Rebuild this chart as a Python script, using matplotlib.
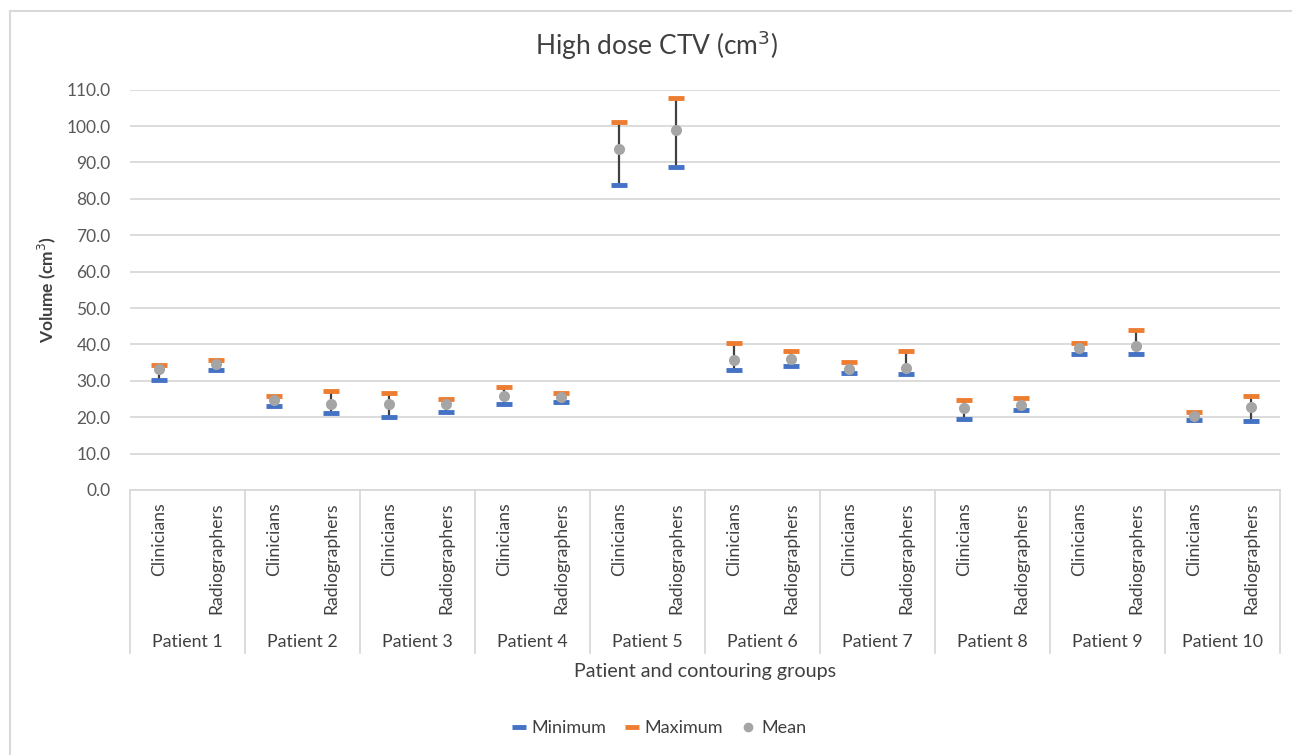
import matplotlib
matplotlib.use("Agg")
import matplotlib.pyplot as plt
import matplotlib.transforms as mtransforms
from matplotlib.lines import Line2D
import numpy as np

plt.rcParams['font.family'] = ['Lato', 'DejaVu Sans']

patients = ["Patient 1", "Patient 2", "Patient 3", "Patient 4", "Patient 5",
            "Patient 6", "Patient 7", "Patient 8", "Patient 9", "Patient 10"]
groups = ["Clinicians", "Radiographers"]

minimum = [30.3, 33.1, 23.0, 21.2, 20.0, 21.5, 23.6, 24.2, 83.9, 88.8,
           32.9, 34.2, 32.1, 31.8, 19.4, 22.0, 37.4, 37.4, 19.1, 18.9]
maximum = [34.4, 35.6, 25.9, 27.3, 26.7, 25.1, 28.4, 26.7, 101.0, 107.6,
           40.5, 38.3, 35.2, 38.3, 24.7, 25.3, 40.3, 44.1, 21.5, 25.7]
mean = [33.2, 34.6, 24.6, 23.6, 23.6, 23.5, 25.8, 25.5, 93.7, 98.8,
        35.7, 36.0, 33.2, 33.5, 22.5, 23.4, 38.9, 39.6, 20.2, 22.8]
yticks = [0, 10, 20, 30, 40, 50, 60, 70, 80, 90, 100, 110]

W, H = 1292, 755
fig = plt.figure(figsize=(W / 100, H / 100), dpi=100)
ax = fig.add_axes([130 / W, 1 - 490 / H, 1150 / W, (490 - 89.7) / H])

n = len(minimum)
x = np.arange(n)
text_c = '#404040'
grid_c = '#D9D9D9'

ax.vlines(x, minimum, maximum, color='#404040', lw=1.6, zorder=2)
ax.plot(x, minimum, ls='none', marker='_', ms=12, mew=3.5, color='#4472C4', zorder=3)
ax.plot(x, maximum, ls='none', marker='_', ms=12, mew=3.5, color='#ED7D31', zorder=3)
ax.plot(x, mean, ls='none', marker='o', ms=8, color='#A5A5A5', mec='none', zorder=4)

ax.set_xlim(-0.5, n - 0.5)
ax.set_ylim(0, 110)
ax.set_yticks(yticks)
ax.set_yticklabels([f"{v:.1f}" for v in yticks], color='#595959', fontsize=12.5)
ax.tick_params(axis='y', length=0, pad=14)
ax.set_xticks([])
ax.grid(axis='y', color=grid_c, lw=1.3)
ax.set_axisbelow(True)
for s in ['top', 'right', 'left']:
    ax.spines[s].set_visible(False)
ax.spines['bottom'].set_color(grid_c)
ax.spines['bottom'].set_linewidth(1.3)

ax.set_ylabel("Volume (cm$^3$)", fontsize=12.5, fontweight='bold', color=text_c)
ax.yaxis.set_label_coords(58 / W, 1 - 290 / H, transform=fig.transFigure)

trans = mtransforms.blended_transform_factory(ax.transData, fig.transFigure)
y_top = 1 - 490 / H
y_bot = 1 - 653 / H
for b in np.arange(-0.5, n, 2):
    ax.add_line(Line2D([b, b], [y_top, y_bot], transform=trans, color=grid_c, lw=1.3, clip_on=False))

for i in range(n):
    ax.text(i, 1 - 502 / H, groups[i % 2], transform=trans, rotation=90, ha='center', va='top',
            fontsize=12.7, color=text_c)
for p, name in enumerate(patients):
    ax.text(2 * p + 0.5, 1 - 642 / H, name, transform=trans, ha='center', va='center',
            fontsize=12.8, color=text_c)

fig.text(705 / W, 1 - 672 / H, "Patient and contouring groups", ha='center', va='center',
         fontsize=14.2, color=text_c)
fig.text(657 / W, 1 - 45 / H, "High dose CTV (cm$^3$)", ha='center', va='center',
         fontsize=19, color=text_c)

handles = [
    Line2D([], [], ls='none', marker='_', ms=10, mew=3.5, color='#4472C4'),
    Line2D([], [], ls='none', marker='_', ms=10, mew=3.5, color='#ED7D31'),
    Line2D([], [], ls='none', marker='o', ms=7, color='#A5A5A5', mec='none'),
]
leg = fig.legend(handles, ["Minimum", "Maximum", "Mean"], loc='center', ncol=3,
                 bbox_to_anchor=(659 / W, 1 - 728 / H), frameon=False, fontsize=13,
                 handlelength=0.8, handletextpad=0.3, columnspacing=1.0)
for t in leg.get_texts():
    t.set_color(text_c)

fig.add_artist(Line2D([10 / W, 10 / W], [0, 1 - 11 / H], transform=fig.transFigure, color=grid_c, lw=1.5))
fig.add_artist(Line2D([10 / W, 1], [1 - 11 / H, 1 - 11 / H], transform=fig.transFigure, color=grid_c, lw=1.5))

fig.savefig("out.png", dpi=100)
